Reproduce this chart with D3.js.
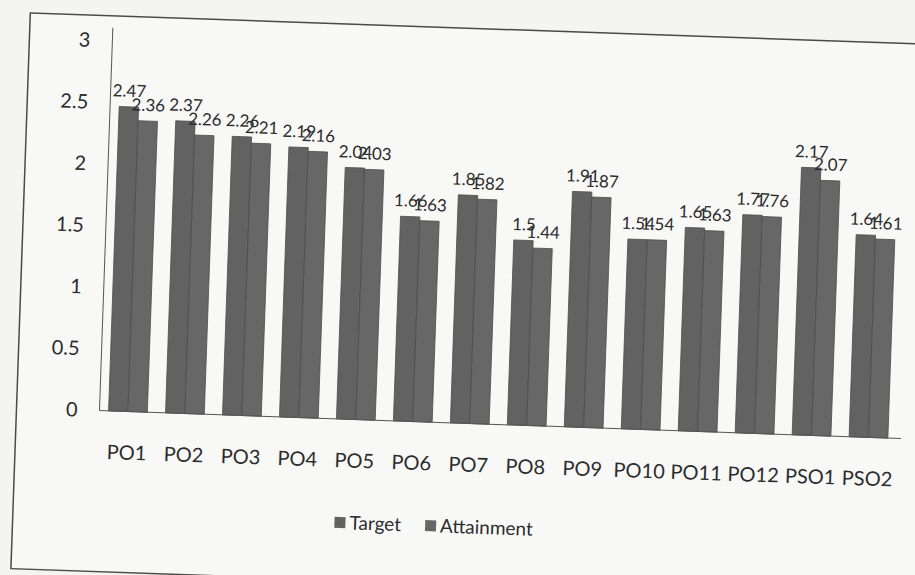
<!DOCTYPE html>
<html>
<head>
<meta charset="utf-8">
<script src="https://cdn.jsdelivr.net/npm/d3@7"></script>
<style>
body { margin: 0; background: #f4f4f2; }
svg { display: block; }
text { font-family: Lato, "Open Sans", sans-serif; fill: #2c2c2c; }
</style>
</head>
<body>
<svg width="915" height="575"></svg>
<script>
//data
const categories = ['PO1','PO2','PO3','PO4','PO5','PO6','PO7','PO8','PO9','PO10','PO11','PO12','PSO1','PSO2'];
const target     = [2.47, 2.37, 2.26, 2.19, 2.04, 1.66, 1.85, 1.5, 1.91, 1.54, 1.65, 1.77, 2.17, 1.64];
const attainment = [2.36, 2.26, 2.21, 2.16, 2.03, 1.63, 1.82, 1.44, 1.87, 1.54, 1.63, 1.76, 2.07, 1.61];
const seriesNames = ['Target', 'Attainment'];
const yTicks = [0, 0.5, 1, 1.5, 2, 2.5, 3];

const svg = d3.select('svg');

//the page was scanned a little crooked, so the whole chart is turned
const g = svg.append('g').attr('transform', 'rotate(2, 457, 287)');

//frame of the chart
g.append('rect')
	.attr('x', 21).attr('y', 28)
	.attr('width', 940).attr('height', 556)
	.attr('fill', '#f8f8f7')
	.attr('stroke', '#4a4a4a')
	.attr('stroke-width', 1.5);

const x = d3.scaleBand()
	.domain(categories)
	.range([104, 902])
	.paddingInner(0.32)
	.paddingOuter(0.16);

const xs = d3.scaleBand()
	.domain(seriesNames)
	.range([0, x.bandwidth()]);

const y = d3.scaleLinear()
	.domain([0, 3])
	.range([423, 53]);

const colors = { Target: '#626262', Attainment: '#676767' };

const rows = categories.map((c, i) => ({ cat: c, Target: target[i], Attainment: attainment[i] }));

//bars
const groups = g.append('g').selectAll('g')
	.data(rows)
	.join('g')
	.attr('transform', d => `translate(${x(d.cat)},0)`);

groups.selectAll('rect')
	.data(d => seriesNames.map(s => ({ s, v: d[s] })))
	.join('rect')
	.attr('x', d => xs(d.s))
	.attr('y', d => y(d.v))
	.attr('width', xs.bandwidth())
	.attr('height', d => y(0) - y(d.v))
	.attr('fill', d => colors[d.s])
	.attr('stroke', '#4c4c4c')
	.attr('stroke-width', 0.8);

//value labels
groups.selectAll('text')
	.data(d => seriesNames.map(s => ({ s, v: d[s] })))
	.join('text')
	.attr('x', d => xs(d.s) + xs.bandwidth() / 2)
	.attr('y', d => y(d.v) - 10)
	.attr('text-anchor', 'middle')
	.style('font-size', '17px')
	.text(d => d3.format('')(d.v));

//axes
const yAxis = g.append('g')
	.attr('transform', 'translate(104,0)')
	.call(d3.axisLeft(y).tickValues(yTicks).tickSize(0).tickPadding(22).tickFormat(d3.format('')));
yAxis.select('.domain').attr('stroke', '#555').attr('d', 'M0,40V423');
yAxis.selectAll('text').style('font-size', '20px').style('font-family', 'Lato, sans-serif').attr('fill', '#2c2c2c');

const xAxis = g.append('g')
	.attr('transform', `translate(0,${y(0)})`)
	.call(d3.axisBottom(x).tickSize(0).tickPadding(34));
xAxis.select('.domain').attr('stroke', '#555').attr('d', 'M104,0H906');
xAxis.selectAll('text').style('font-size', '20px').style('font-family', 'Lato, sans-serif').attr('fill', '#2c2c2c');

//legend
const legend = g.append('g');
let lx = 0;
seriesNames.forEach(s => {
	const item = legend.append('g').attr('transform', `translate(${lx},0)`);
	item.append('rect').attr('x', 0).attr('y', -12).attr('width', 11).attr('height', 11).attr('fill', colors[s]);
	const t = item.append('text').attr('x', 15).attr('y', 0).style('font-size', '19px').text(s);
	lx += 15 + t.node().getComputedTextLength() + 24;
});
const lw = lx - 24;
legend.attr('transform', `translate(${442 - lw / 2},533)`);
</script>
</body>
</html>
